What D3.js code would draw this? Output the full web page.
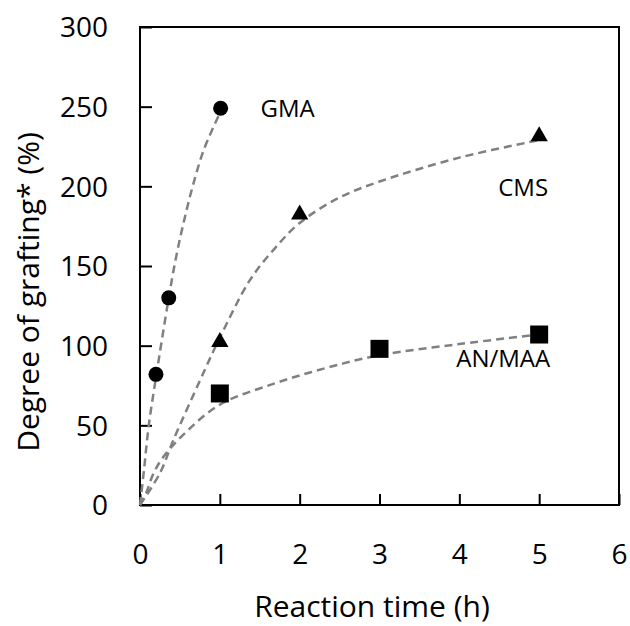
<!DOCTYPE html>
<html>
<head>
<meta charset="utf-8">
<title>Degree of grafting vs reaction time</title>
<script src="https://cdn.jsdelivr.net/npm/d3@7"></script>
<style>
  body { margin: 0; background: #fff; }
  text { font-family: "Open Sans", "Noto Sans", sans-serif; fill: #000; }
</style>
</head>
<body>
<div id="chart"></div>
<script>
// measured points
var gmaPts = [[0.2, 82], [0.36, 130], [1.01, 249]];
var cmsPts = [[1, 103], [2, 183], [5, 232]];
var anPts = [[1, 70], [3, 98], [5, 107]];

// dashed guide curves
var gmaCurve = [[0, 0], [0.05, 22], [0.11, 50], [0.2, 80], [0.35, 127], [0.45, 155], [0.55, 178], [0.66, 200], [0.8, 223], [1.0, 246]];
var cmsCurve = [[0, 0], [0.25, 20], [0.42, 41], [0.75, 78], [1.0, 105], [1.375, 141], [1.67, 160], [2.0, 177], [2.5, 193], [3.0, 203], [4.0, 218], [5.0, 229]];
var anCurve = [[0, 0], [0.08, 8], [0.17, 20], [0.29, 30], [0.54, 44], [1, 63], [1.67, 76], [2.33, 86], [3, 94], [4, 101], [5, 107]];

var labels = [
  {text: "GMA", x: 1.85, y: 249},
  {text: "CMS", x: 4.8, y: 199},
  {text: "AN/MAA", x: 4.55, y: 92}
];

var xTicks = [0, 1, 2, 3, 4, 5, 6];
var yTicks = [0, 50, 100, 150, 200, 250, 300];

var W = 630, H = 626;
var svg = d3.select("#chart").append("svg").attr("width", W).attr("height", H);

var x = d3.scaleLinear().domain([0, 6]).range([140, 619]);
var y = d3.scaleLinear().domain([0, 300]).range([505, 27]);

// frame
svg.append("rect")
  .attr("x", x(0)).attr("y", y(300))
  .attr("width", x(6) - x(0)).attr("height", y(0) - y(300))
  .attr("fill", "none").attr("stroke", "#000").attr("stroke-width", 2);

// axes with inward ticks
var gx = svg.append("g").attr("transform", "translate(0," + y(0) + ")")
  .call(d3.axisBottom(x).tickValues(xTicks).tickSize(-11).tickPadding(0).tickFormat(d3.format("d")));
var gy = svg.append("g").attr("transform", "translate(" + x(0) + ",0)")
  .call(d3.axisLeft(y).tickValues(yTicks).tickSize(-12).tickPadding(0).tickFormat(d3.format("d")));

[gx, gy].forEach(function(g) {
  g.select(".domain").remove();
  g.selectAll("line").attr("stroke", "#000").attr("stroke-width", 2);
  g.selectAll("text").attr("font-size", 28).attr("font-family", "'Open Sans', 'Noto Sans', sans-serif");
});
gx.selectAll("text").attr("dy", null).attr("y", 59);
gy.selectAll("text").attr("x", -32).attr("dy", "0.35em");

// dashed curves
var line = d3.line().x(function(d) { return x(d[0]); }).y(function(d) { return y(d[1]); })
  .curve(d3.curveCatmullRom.alpha(0.5));
[gmaCurve, cmsCurve, anCurve].forEach(function(c) {
  svg.append("path").datum(c).attr("d", line)
    .attr("fill", "none").attr("stroke", "#808080")
    .attr("stroke-width", 2.5).attr("stroke-dasharray", "8,5");
});

// markers
svg.selectAll(".gma").data(gmaPts).enter().append("circle")
  .attr("cx", function(d) { return x(d[0]); }).attr("cy", function(d) { return y(d[1]); })
  .attr("r", 7.5).attr("fill", "#000");

var tri = d3.symbol().type(d3.symbolTriangle).size(130);
svg.selectAll(".cms").data(cmsPts).enter().append("path")
  .attr("d", tri)
  .attr("transform", function(d) { return "translate(" + x(d[0]) + "," + (y(d[1]) + 1) + ")"; })
  .attr("fill", "#000");

svg.selectAll(".an").data(anPts).enter().append("rect")
  .attr("x", function(d) { return x(d[0]) - 9; }).attr("y", function(d) { return y(d[1]) - 9; })
  .attr("width", 18).attr("height", 18).attr("fill", "#000");

// series labels
svg.selectAll(".lbl").data(labels).enter().append("text")
  .attr("x", function(d) { return x(d.x); }).attr("y", function(d) { return y(d.y); })
  .attr("text-anchor", "middle").attr("dy", "0.35em")
  .attr("font-size", 24)
  .text(function(d) { return d.text; });

// axis titles
svg.append("text").attr("x", 372).attr("y", 617)
  .attr("text-anchor", "middle").attr("font-size", 30)
  .text("Reaction time (h)");
svg.append("text")
  .attr("transform", "translate(39," + 292 + ") rotate(-90)")
  .attr("text-anchor", "middle").attr("font-size", 30)
  .text("Degree of grafting* (%)");
</script>
</body>
</html>
